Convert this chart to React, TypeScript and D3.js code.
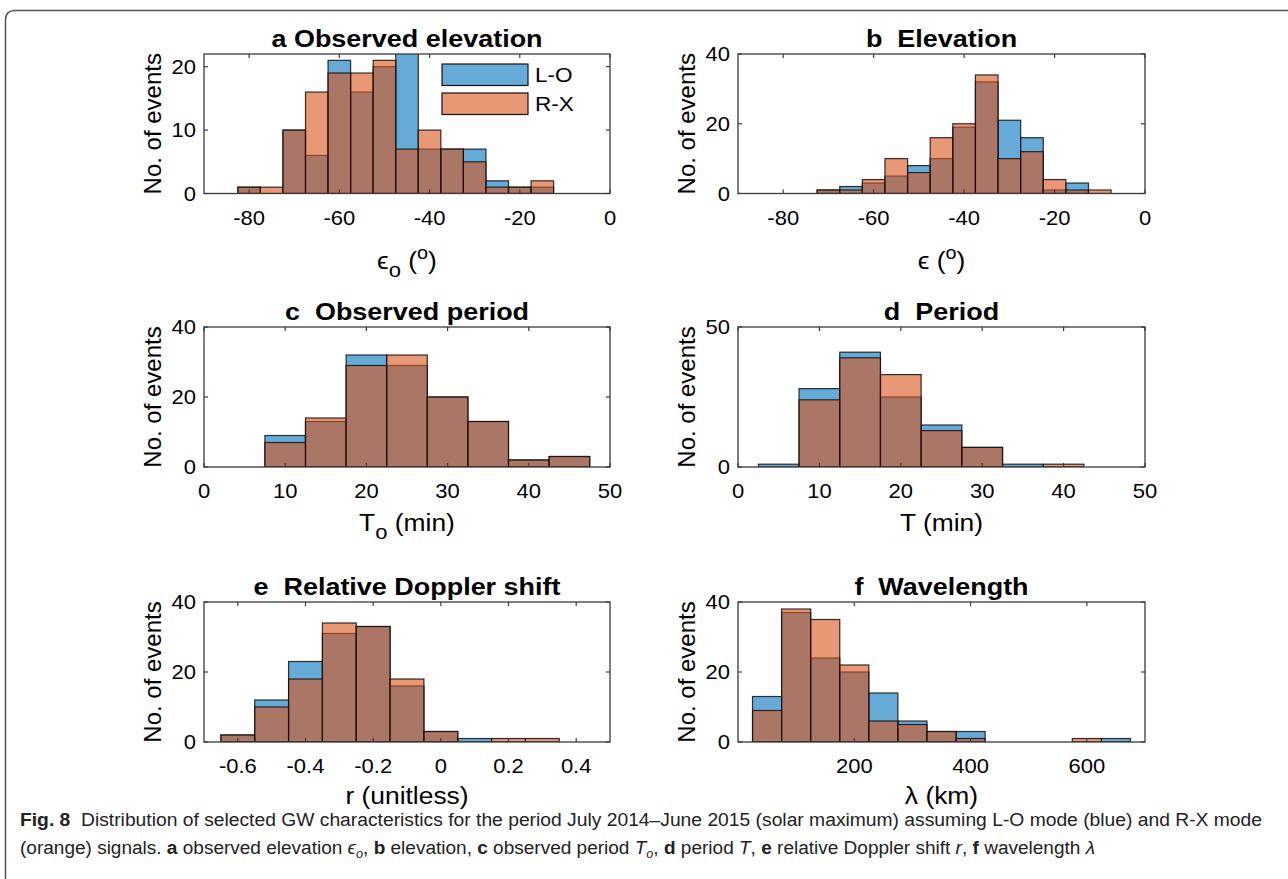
import React from 'react';
import * as d3 from 'd3';

// bin centres and counts
const elevObsBins = [-80, -75, -70, -65, -60, -55, -50, -45, -40, -35, -30, -25, -20, -15];
const elevObsLO = [1, 0, 10, 6, 21, 16, 20, 24, 7, 7, 7, 2, 1, 1];
const elevObsRX = [1, 1, 10, 16, 19, 19, 21, 7, 10, 7, 5, 1, 1, 2];

const elevBins = [-70, -65, -60, -55, -50, -45, -40, -35, -30, -25, -20, -15, -10];
const elevLO = [1, 2, 3, 5, 8, 10, 19, 32, 21, 16, 1, 3, 0];
const elevRX = [1, 1, 4, 10, 6, 16, 20, 34, 10, 12, 4, 1, 1];

const periodObsBins = [10, 15, 20, 25, 30, 35, 40, 45];
const periodObsLO = [9, 13, 32, 29, 20, 13, 2, 3];
const periodObsRX = [7, 14, 29, 32, 20, 13, 2, 3];

const periodBins = [5, 10, 15, 20, 25, 30, 35, 40];
const periodLO = [1, 28, 41, 25, 15, 7, 1, 0];
const periodRX = [0, 24, 39, 33, 13, 7, 0, 1];

const dopplerBins = [-0.6, -0.5, -0.4, -0.3, -0.2, -0.1, 0, 0.1, 0.2, 0.3];
const dopplerLO = [2, 12, 23, 31, 33, 16, 3, 1, 0, 0];
const dopplerRX = [2, 10, 18, 34, 33, 18, 3, 0, 1, 1];

const waveBins = [50, 100, 150, 200, 250, 300, 350, 400, 450, 500, 550, 600, 650];
const waveLO = [13, 37, 24, 20, 14, 6, 3, 3, 0, 0, 0, 0, 1];
const waveRX = [9, 38, 35, 22, 6, 5, 3, 1, 0, 0, 0, 1, 0];

const elevTicks = [-80, -60, -40, -20, 0];
const periodTicks = [0, 10, 20, 30, 40, 50];
const dopplerTicks = [-0.6, -0.4, -0.2, 0, 0.2, 0.4];
const waveTicks = [200, 400, 600];

const seriesNames = ['L-O', 'R-X'];

const BLUE = 'rgb(0,114,189)';
const ORANGE = 'rgb(217,83,25)';
const FONT = '"Liberation Sans", Arial, Helvetica, sans-serif';
const SX = 1.1; // the original text is a little wider than tall

const Txt = ({ x, y, size, anchor = 'middle', weight = 'normal', children }: any) => (
  <text
    transform={`translate(${x},${y}) scale(${SX},1)`}
    textAnchor={anchor}
    fontSize={size}
    fontWeight={weight}
    fontFamily={FONT}
    fill="#000"
    style={{ whiteSpace: 'pre' }}
  >
    {children}
  </text>
);

const Panel = ({ id, box, title, xDomain, yDomain, xTicks, yTicks, bins, binWidth, lo, rx, xLabel, xLabelGap, legend }: any) => {
  const { x0, x1, y0, y1 } = box;
  const x = d3.scaleLinear().domain(xDomain).range([x0, x1]);
  const y = d3.scaleLinear().domain(yDomain).range([y1, y0]);
  const tl = 4;

  const bars = (vals: number[], color: string) =>
    bins.map((c: number, i: number) =>
      vals[i] > 0 ? (
        <rect
          key={i}
          x={x(c - binWidth / 2)}
          y={y(vals[i])}
          width={x(c + binWidth / 2) - x(c - binWidth / 2)}
          height={y(0) - y(vals[i])}
          fill={color}
          fillOpacity={0.6}
          stroke="#111"
          strokeOpacity={0.85}
          strokeWidth={1.2}
        />
      ) : null
    );

  return (
    <g>
      <defs>
        <clipPath id={`clip-${id}`}>
          <rect x={x0} y={y0} width={x1 - x0} height={y1 - y0} />
        </clipPath>
      </defs>
      <rect x={x0} y={y0} width={x1 - x0} height={y1 - y0} fill="#fff" />
      <g clipPath={`url(#clip-${id})`}>
        {bars(lo, BLUE)}
        {bars(rx, ORANGE)}
      </g>
      {/* box and inward ticks on all sides */}
      <rect x={x0} y={y0} width={x1 - x0} height={y1 - y0} fill="none" stroke="#3a3a3a" strokeWidth={1.3} />
      {xTicks.map((t: number) => (
        <g key={'xt' + t}>
          <line x1={x(t)} x2={x(t)} y1={y1} y2={y1 - tl} stroke="#3a3a3a" strokeWidth={1.2} />
          <line x1={x(t)} x2={x(t)} y1={y0} y2={y0 + tl} stroke="#3a3a3a" strokeWidth={1.2} />
          <Txt x={x(t)} y={y1 + 31} size={20}>{String(t)}</Txt>
        </g>
      ))}
      {yTicks.map((t: number) => (
        <g key={'yt' + t}>
          <line x1={x0} x2={x0 + tl} y1={y(t)} y2={y(t)} stroke="#3a3a3a" strokeWidth={1.2} />
          <line x1={x1} x2={x1 - tl} y1={y(t)} y2={y(t)} stroke="#3a3a3a" strokeWidth={1.2} />
          <Txt x={x0 - 8} y={y(t) + 7} size={20} anchor="end">{String(t)}</Txt>
        </g>
      ))}
      <Txt x={(x0 + x1) / 2} y={y0 - 7} size={24.5} weight="bold">{title}</Txt>
      <Txt x={(x0 + x1) / 2} y={y1 + xLabelGap} size={24}>{xLabel}</Txt>
      <text
        transform={`translate(${x0 - 43},${(y0 + y1) / 2}) rotate(-90)`}
        textAnchor="middle"
        fontSize={24}
        fontFamily={FONT}
        fill="#000"
      >
        No. of events
      </text>
      {legend && (
        <g>
          {seriesNames.map((name, i) => (
            <g key={name}>
              <rect
                x={x0 + 238}
                y={y0 + 10 + i * 29}
                width={86}
                height={21.5}
                fill={i === 0 ? BLUE : ORANGE}
                fillOpacity={0.6}
                stroke="#111"
                strokeWidth={1.2}
              />
              <Txt x={x0 + 331} y={y0 + 28 + i * 29} size={20.5} anchor="start">{name}</Txt>
            </g>
          ))}
        </g>
      )}
    </g>
  );
};

const sub = (s: string, size = 20) => (
  <>
    <tspan dy={8} fontSize={size}>{s}</tspan>
    <tspan dy={-8}> </tspan>
  </>
);
const deg = (
  <>
    (<tspan dy={-10} fontSize={18}>o</tspan>
    <tspan dy={10}>)</tspan>
  </>
);

export default function App() {
  const L = { a: 204, b: 610 };
  const R = { a: 738, b: 1145 };
  const rows = [
    [54, 193.5],
    [327, 467],
    [602, 742],
  ];
  const box = (c: any, r: number) => ({ x0: c.a, x1: c.b, y0: rows[r][0], y1: rows[r][1] });

  return (
    <svg
      width={1288}
      height={879}
      style={{ position: 'absolute', left: 0, top: 0, background: '#fff' }}
    >
      <rect width={1288} height={879} fill="#fff" />
      <path d="M5.5,879 L5.5,20 Q5.5,10.5 15,10.5 L1288,10.5" fill="none" stroke="#555" strokeWidth={1.5} />

      <Panel id="a" box={box(L, 0)} title="a Observed elevation" xDomain={[-90, 0]} yDomain={[0, 22]}
        xTicks={elevTicks} yTicks={[0, 10, 20]} bins={elevObsBins} binWidth={5}
        lo={elevObsLO} rx={elevObsRX} xLabelGap={75} legend
        xLabel={<>ϵ{sub('o')}{deg}</>} />
      <Panel id="b" box={box(R, 0)} title="b  Elevation" xDomain={[-90, 0]} yDomain={[0, 40]}
        xTicks={elevTicks} yTicks={[0, 20, 40]} bins={elevBins} binWidth={5}
        lo={elevLO} rx={elevRX} xLabelGap={75}
        xLabel={<>ϵ {deg}</>} />
      <Panel id="c" box={box(L, 1)} title="c  Observed period" xDomain={[0, 50]} yDomain={[0, 40]}
        xTicks={periodTicks} yTicks={[0, 20, 40]} bins={periodObsBins} binWidth={5}
        lo={periodObsLO} rx={periodObsRX} xLabelGap={64}
        xLabel={<>T{sub('o')}(min)</>} />
      <Panel id="d" box={box(R, 1)} title="d  Period" xDomain={[0, 50]} yDomain={[0, 50]}
        xTicks={periodTicks} yTicks={[0, 50]} bins={periodBins} binWidth={5}
        lo={periodLO} rx={periodRX} xLabelGap={64}
        xLabel="T (min)" />
      <Panel id="e" box={box(L, 2)} title="e  Relative Doppler shift" xDomain={[-0.7, 0.5]} yDomain={[0, 40]}
        xTicks={dopplerTicks} yTicks={[0, 20, 40]} bins={dopplerBins} binWidth={0.1}
        lo={dopplerLO} rx={dopplerRX} xLabelGap={62}
        xLabel="r (unitless)" />
      <Panel id="f" box={box(R, 2)} title="f  Wavelength" xDomain={[0, 700]} yDomain={[0, 40]}
        xTicks={waveTicks} yTicks={[0, 20, 40]} bins={waveBins} binWidth={50}
        lo={waveLO} rx={waveRX} xLabelGap={62}
        xLabel="λ (km)" />

      <g fontFamily='"Liberation Sans Narrow", "Liberation Sans", Arial, sans-serif' fontSize={18} fill="#222">
        <text x={20} y={826} textLength={1242} lengthAdjust="spacingAndGlyphs" style={{ whiteSpace: 'pre' }}>
          <tspan fontWeight="bold">Fig. 8</tspan>
          {'  Distribution of selected GW characteristics for the period July 2014–June 2015 (solar maximum) assuming L-O mode (blue) and R-X mode'}
        </text>
        <text x={20} y={854} textLength={1075} lengthAdjust="spacingAndGlyphs" style={{ whiteSpace: 'pre' }}>
          {'(orange) signals. '}
          <tspan fontWeight="bold">a</tspan>
          {' observed elevation '}
          <tspan fontStyle="italic">ϵ</tspan>
          <tspan fontStyle="italic" fontSize={12} dy={4}>o</tspan>
          <tspan dy={-4}>{', '}</tspan>
          <tspan fontWeight="bold">b</tspan>
          {' elevation, '}
          <tspan fontWeight="bold">c</tspan>
          {' observed period '}
          <tspan fontStyle="italic">T</tspan>
          <tspan fontStyle="italic" fontSize={12} dy={4}>o</tspan>
          <tspan dy={-4}>{', '}</tspan>
          <tspan fontWeight="bold">d</tspan>
          {' period '}
          <tspan fontStyle="italic">T</tspan>
          {', '}
          <tspan fontWeight="bold">e</tspan>
          {' relative Doppler shift '}
          <tspan fontStyle="italic">r</tspan>
          {', '}
          <tspan fontWeight="bold">f</tspan>
          {' wavelength '}
          <tspan fontStyle="italic">λ</tspan>
        </text>
      </g>
    </svg>
  );
}
